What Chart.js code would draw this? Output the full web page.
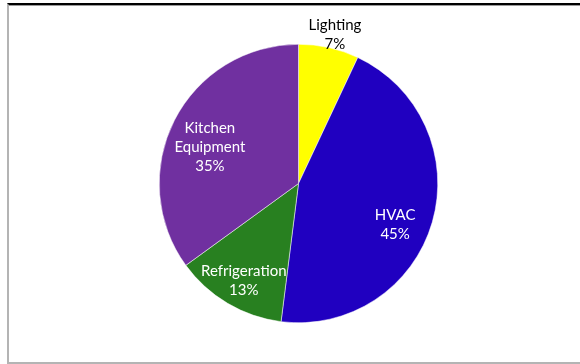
<!DOCTYPE html>
<html lang="en">
<head>
    <meta charset="UTF-8">
    <title>Energy Use by End Use</title>
    <style>
        body {
            margin: 0;
            background: #fff;
            width: 580px;
            height: 364px;
            overflow: hidden;
            position: relative;
        }
        .frame {
            position: absolute;
            left: 7px;
            top: 3px;
            right: 0;
            bottom: 0;
            border-top: 2px solid #000;
            border-left: 2px solid #b4b4b4;
            border-bottom: 2px solid #b4b4b4;
            box-shadow: inset 0 1px 0 #9a9a9a;
        }
        #chart {
            position: absolute;
            left: 0;
            top: 0;
        }
    </style>
</head>
<body>
    <div class="frame"></div>
    <canvas id="chart" width="580" height="364"></canvas>

    <script src="https://cdn.jsdelivr.net/npm/chart.js"></script>
    <script>
        const categories = ['Lighting', 'HVAC', 'Refrigeration', 'Kitchen Equipment'];
        const shares = [7, 45, 13, 35];
        const sliceColors = ['#ffff00', '#2000c0', '#288020', '#7030a0'];

        // label lines, where they sit along the slice (fraction of radius) and a small nudge
        const labelLines = [['Lighting'], ['HVAC'], ['Refrigeration'], ['Kitchen', 'Equipment']];
        const labelPlace = [
            { r: 1.10, dx: 3, dy: 1, color: '#000' },
            { r: 0.76, dx: -5, dy: 12, color: '#fff' },
            { r: 0.80, dx: 2, dy: 1, color: '#fff' },
            { r: 0.69, dx: -3, dy: 7, color: '#fff' }
        ];

        const sliceLabels = {
            id: 'sliceLabels',
            afterDatasetsDraw(chart) {
                const ctx = chart.ctx;
                const arcs = chart.getDatasetMeta(0).data;
                ctx.save();
                ctx.font = '15px Lato';
                ctx.textAlign = 'center';
                ctx.textBaseline = 'middle';
                arcs.forEach((arc, i) => {
                    const p = arc.getProps(['x', 'y', 'startAngle', 'endAngle', 'outerRadius'], true);
                    const mid = (p.startAngle + p.endAngle) / 2;
                    const place = labelPlace[i];
                    const cx = p.x + Math.cos(mid) * p.outerRadius * place.r + place.dx;
                    const cy = p.y + Math.sin(mid) * p.outerRadius * place.r + place.dy;
                    const lines = labelLines[i].concat([shares[i] + '%']);
                    const lh = 19;
                    const top = cy - (lines.length - 1) * lh / 2;
                    ctx.fillStyle = place.color;
                    lines.forEach((t, k) => ctx.fillText(t, cx, top + k * lh));
                });
                ctx.restore();
            }
        };

        new Chart(document.getElementById('chart'), {
            type: 'pie',
            data: {
                labels: categories,
                datasets: [{
                    data: shares,
                    backgroundColor: sliceColors,
                    borderColor: '#ffffff',
                    borderWidth: 0.5
                }]
            },
            options: {
                responsive: false,
                animation: false,
                layout: {
                    padding: { top: 44, bottom: 41, left: 17, right: 0 }
                },
                plugins: {
                    legend: { display: false },
                    tooltip: { enabled: false }
                }
            },
            plugins: [sliceLabels]
        });
    </script>
</body>
</html>
